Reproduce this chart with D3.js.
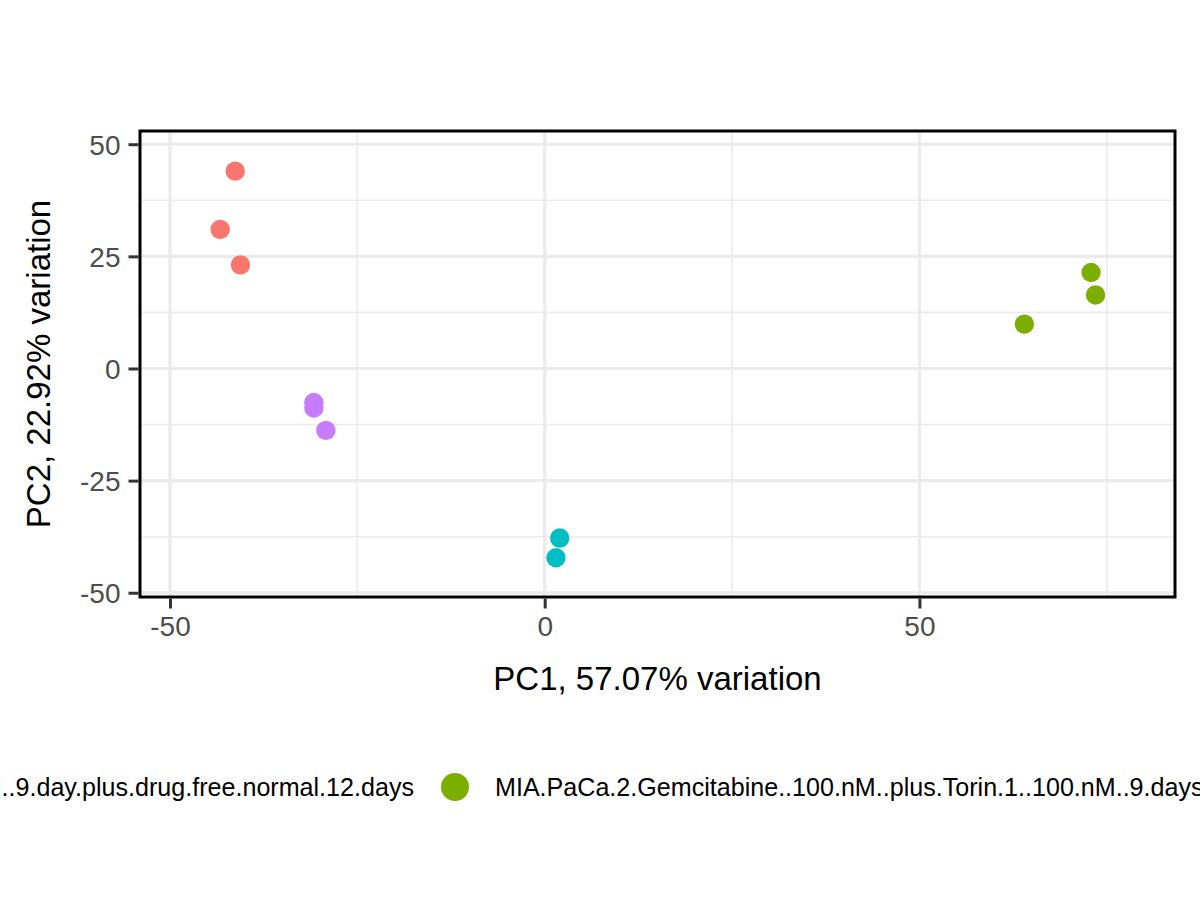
<!DOCTYPE html>
<html>
<head>
<meta charset="utf-8">
<script src="https://cdn.jsdelivr.net/npm/d3@7"></script>
<style>
  body { margin: 0; background: #fff; }
  text { font-family: "Liberation Sans", Arial, Helvetica, sans-serif; }
</style>
</head>
<body>
<div id="chart"></div>
<script>
// group labels, in legend (factor level) order
const groups = [
  "MIA.PaCa.2.Gemcitabine..100.nM..plus.Torin.1..100.nM..9.day.plus.drug.free.normal.12.days",
  "MIA.PaCa.2.Gemcitabine..100.nM..plus.Torin.1..100.nM..9.days",
  "MIA.PaCa.2.Torin.1..100.nM..9.days",
  "MIA.PaCa.2.Untreated"
];
const groupColors = ["#F8766D", "#7CAE00", "#00BFC4", "#C77CFF"];

// PCA scores
const pc1 = [-41.3, -43.3, -40.6, 72.9, 73.5, 64.0, 2.0, 1.5, -30.8, -30.8, -29.2];
const pc2 = [44.0, 31.0, 23.1, 21.4, 16.4, 9.9, -37.8, -42.2, -7.6, -8.8, -13.8];
const sampleGroup = [0, 0, 0, 1, 1, 1, 2, 2, 3, 3, 3];

const xTicks = [-50, 0, 50];
const xMinor = [-25, 25, 75];
const yTicks = [-50, -25, 0, 25, 50];
const yMinor = [-37.5, -12.5, 12.5, 37.5];

const xTitle = "PC1, 57.07% variation";
const yTitle = "PC2, 22.92% variation";

const width = 1200, height = 900;
const panel = {left: 140, right: 1175, top: 131, bottom: 597};

const points = pc1.map((d, i) => ({x: d, y: pc2[i], g: sampleGroup[i]}));

const x = d3.scaleLinear().domain([-54.0, 84.1]).range([panel.left, panel.right]);
const y = d3.scaleLinear().domain([-50.95, 52.95]).range([panel.bottom, panel.top]);

const svg = d3.select("#chart").append("svg")
    .attr("width", width)
    .attr("height", height);

// grid
const grid = svg.append("g");
grid.selectAll("line.xminor").data(xMinor).join("line")
    .attr("x1", d => x(d)).attr("x2", d => x(d))
    .attr("y1", panel.top).attr("y2", panel.bottom)
    .attr("stroke", "#EBEBEB").attr("stroke-width", 1.6);
grid.selectAll("line.yminor").data(yMinor).join("line")
    .attr("y1", d => y(d)).attr("y2", d => y(d))
    .attr("x1", panel.left).attr("x2", panel.right)
    .attr("stroke", "#EBEBEB").attr("stroke-width", 1.6);
grid.selectAll("line.xmajor").data(xTicks).join("line")
    .attr("x1", d => x(d)).attr("x2", d => x(d))
    .attr("y1", panel.top).attr("y2", panel.bottom)
    .attr("stroke", "#EBEBEB").attr("stroke-width", 3.2);
grid.selectAll("line.ymajor").data(yTicks).join("line")
    .attr("y1", d => y(d)).attr("y2", d => y(d))
    .attr("x1", panel.left).attr("x2", panel.right)
    .attr("stroke", "#EBEBEB").attr("stroke-width", 3.2);

// points
svg.append("g")
  .selectAll("circle")
  .data(points)
  .join("circle")
    .attr("cx", d => x(d.x))
    .attr("cy", d => y(d.y))
    .attr("r", 9.7)
    .attr("fill", d => groupColors[d.g]);

// panel border
svg.append("rect")
    .attr("x", panel.left).attr("y", panel.top)
    .attr("width", panel.right - panel.left)
    .attr("height", panel.bottom - panel.top)
    .attr("fill", "none")
    .attr("stroke", "#000")
    .attr("stroke-width", 3);

// axes (plain hyphen minus, as R prints it)
const fmt = d => String(d);
const xAxis = svg.append("g")
    .attr("transform", `translate(0,${panel.bottom + 1.5})`)
    .call(d3.axisBottom(x).tickValues(xTicks).tickFormat(fmt).tickSize(10).tickPadding(8));
const yAxis = svg.append("g")
    .attr("transform", `translate(${panel.left - 1.5},0)`)
    .call(d3.axisLeft(y).tickValues(yTicks).tickFormat(fmt).tickSize(10).tickPadding(8));

[xAxis, yAxis].forEach(a => {
  a.select(".domain").remove();
  a.selectAll(".tick line").attr("stroke", "#333").attr("stroke-width", 3);
  a.selectAll(".tick text")
      .attr("fill", "#4D4D4D")
      .style("font-size", "28px")
      .style("font-family", "'Liberation Sans', Arial, Helvetica, sans-serif");
});
yAxis.selectAll(".tick text").attr("dy", "0.36em");

svg.append("text")
    .attr("x", (panel.left + panel.right) / 2)
    .attr("y", 690)
    .attr("text-anchor", "middle")
    .attr("fill", "#000")
    .style("font-size", "33px")
    .text(xTitle);

svg.append("text")
    .attr("transform", `translate(50,${(panel.top + panel.bottom) / 2}) rotate(-90)`)
    .attr("text-anchor", "middle")
    .attr("fill", "#000")
    .style("font-size", "33px")
    .text(yTitle);

// legend: single horizontal row, wider than the page
const legendY = 787;
const legend = svg.append("g");
const entries = legend.selectAll("g")
  .data(groups)
  .join("g");
entries.append("circle")
    .attr("r", 14)
    .attr("cy", legendY)
    .attr("fill", (d, i) => groupColors[i]);
entries.append("text")
    .attr("y", legendY)
    .attr("dy", "0.36em")
    .attr("fill", "#000")
    .style("font-size", "25.1px")
    .text(d => d);

const keyToText = 40, textToKey = 41;
let cursor = 0;
const keyX = [];
entries.each(function(d, i) {
  const g = d3.select(this);
  keyX.push(cursor);
  const w = g.select("text").node().getComputedTextLength();
  g.select("circle").attr("cx", cursor);
  g.select("text").attr("x", cursor + keyToText);
  cursor += keyToText + w + textToKey;
});
// shift so the second key sits where it does in the original
legend.attr("transform", `translate(${455 - keyX[1]},0)`);
</script>
</body>
</html>
